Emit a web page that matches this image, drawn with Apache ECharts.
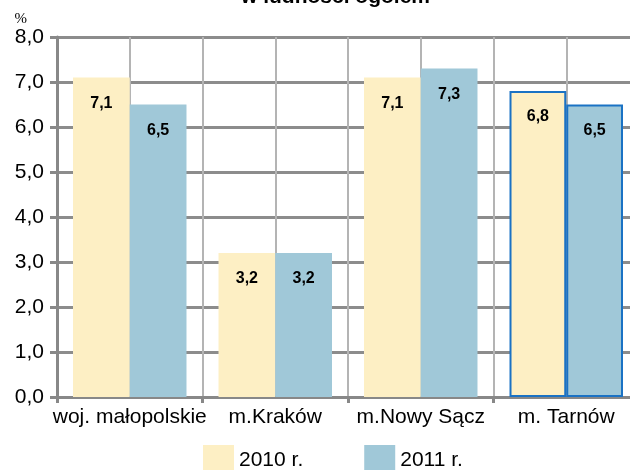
<!DOCTYPE html>
<html>
<head>
<meta charset="utf-8">
<script src="https://cdn.jsdelivr.net/npm/echarts@6/dist/echarts.min.js"></script>
<style>html,body{margin:0;padding:0;background:#fff;overflow:hidden;}#c{width:630px;height:470px;}</style>
</head>
<body>
<div id="c"></div>
<script>
const categories = ['woj. małopolskie', 'm.Kraków', 'm.Nowy Sącz', 'm. Tarnów'];
const seriesNames = ['2010 r.', '2011 r.'];
const values2010 = [7.1, 3.2, 7.1, 6.8];
const values2011 = [6.5, 3.2, 7.3, 6.5];
const yTicks = [0, 1, 2, 3, 4, 5, 6, 7, 8];
const titleText = 'w ludności ogółem';

const c2010 = '#fdefc4';
const c2011 = '#a0c8d8';
const highlightBorder = '#1a72c4';
const fmt = v => Number(v).toFixed(1).replace('.', ',');

function makeData(vals, color) {
  return vals.map((v, i) => ({
    value: v,
    itemStyle: i === 3 ? { color: color, borderColor: highlightBorder, borderWidth: 2 } : { color: color }
  }));
}

const chart = echarts.init(document.getElementById('c'), null, { renderer: 'canvas' });
chart.setOption({
  animation: false,
  backgroundColor: '#fff',
  textStyle: { fontFamily: 'Liberation Sans, Arial, sans-serif' },
  title: {
    text: titleText, left: 236, top: -18,
    textStyle: { fontSize: 21, fontWeight: 'bold', color: '#000' }
  },
  grid: { left: 57, width: 582, top: 37, height: 360, containLabel: false, outerBoundsMode: 'none' },
  legend: {
    data: seriesNames, top: 445, left: 203, padding: 0, itemWidth: 31, itemHeight: 30, itemGap: 61,
    textStyle: { fontSize: 21, color: '#000', padding: [6, 0, 0, 0] },
    icon: 'rect'
  },
  xAxis: [{
    type: 'category', data: categories,
    axisLine: { lineStyle: { color: '#888', width: 3 } },
    axisTick: { show: true, length: 6, lineStyle: { color: '#888', width: 3 } },
    axisLabel: { fontSize: 21, color: '#000', margin: 10, interval: 0 },
    splitLine: { show: false }
  }, {
    type: 'category', data: [1, 2, 3, 4, 5, 6, 7, 8], position: 'bottom',
    axisLine: { show: false }, axisTick: { show: false }, axisLabel: { show: false },
    splitLine: { show: true, interval: 0, lineStyle: { color: '#b4b4b4', width: 2 } }
  }],
  yAxis: {
    type: 'value', min: 0, max: 8, interval: 1,
    name: '%', nameLocation: 'end', nameGap: 5,
    nameTextStyle: { fontFamily: 'Liberation Serif, serif', fontSize: 15, color: '#000', align: 'right', padding: [0, 30, 0, 0] },
    axisLine: { show: true, lineStyle: { color: '#888', width: 3 } },
    axisTick: { show: true, length: 7, lineStyle: { color: '#888', width: 3 } },
    axisLabel: { fontSize: 21, color: '#000', margin: 13, formatter: v => fmt(v) },
    splitLine: { show: true, lineStyle: { color: '#8c8c8c', width: 3 } }
  },
  series: [{
    name: seriesNames[0], type: 'bar', data: makeData(values2010, c2010),
    itemStyle: { color: c2010 }, barWidth: '39%', barGap: '0%',
    label: { show: true, position: 'insideTop', distance: 18, formatter: p => fmt(p.value), fontSize: 16, fontWeight: 'bold', color: '#000' }
  }, {
    name: seriesNames[1], type: 'bar', data: makeData(values2011, c2011),
    itemStyle: { color: c2011 }, barWidth: '39%', barGap: '0%',
    label: { show: true, position: 'insideTop', distance: 18, formatter: p => fmt(p.value), fontSize: 16, fontWeight: 'bold', color: '#000' }
  }]
});
</script>
</body>
</html>
